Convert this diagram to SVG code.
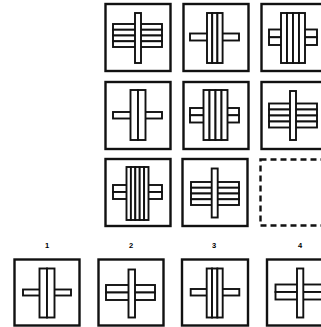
<svg xmlns="http://www.w3.org/2000/svg" width="321" height="327" viewBox="0 0 321 327">
<style>
.box{fill:none;stroke:#111;stroke-width:2.4}
.dash{fill:none;stroke:#111;stroke-width:2.4;stroke-dasharray:6 4}
.bar{fill:#fff;stroke:#111;stroke-width:1.9}
.lbl{font-family:"Liberation Sans",Arial,sans-serif;font-size:7.5px;font-weight:bold;fill:#000;text-anchor:middle}
</style>
<rect width="321" height="327" fill="#fff"/>
<g id="cell1">
<rect class="box" x="105.5" y="4" width="65" height="67"/>
<rect class="bar" x="113" y="24" width="49" height="5.75"/>
<rect class="bar" x="113" y="29.75" width="49" height="5.75"/>
<rect class="bar" x="113" y="35.5" width="49" height="5.75"/>
<rect class="bar" x="113" y="41.25" width="49" height="5.75"/>
<rect class="bar" x="135" y="13" width="6" height="50"/>
</g>
<g id="cell2">
<rect class="box" x="183.5" y="4" width="65" height="67"/>
<rect class="bar" x="190" y="33.5" width="49" height="7"/>
<rect class="bar" x="207" y="13" width="5.2" height="50"/>
<rect class="bar" x="212.2" y="13" width="5.2" height="50"/>
<rect class="bar" x="217.4" y="13" width="5.2" height="50"/>
</g>
<g id="cell3">
<rect class="box" x="261.5" y="4" width="65" height="67"/>
<rect class="bar" x="269" y="29.5" width="48" height="7.75"/>
<rect class="bar" x="269" y="37.25" width="48" height="7.75"/>
<rect class="bar" x="281" y="13" width="6" height="50"/>
<rect class="bar" x="287" y="13" width="6" height="50"/>
<rect class="bar" x="293" y="13" width="6" height="50"/>
<rect class="bar" x="299" y="13" width="6" height="50"/>
</g>
<g id="cell4">
<rect class="box" x="105.5" y="82" width="65" height="67"/>
<rect class="bar" x="113" y="112" width="49" height="6.5"/>
<rect class="bar" x="130.5" y="90" width="7.5" height="50"/>
<rect class="bar" x="138" y="90" width="7.5" height="50"/>
</g>
<g id="cell5">
<rect class="box" x="183.5" y="82" width="65" height="67"/>
<rect class="bar" x="190" y="108" width="49" height="7.25"/>
<rect class="bar" x="190" y="115.25" width="49" height="7.25"/>
<rect class="bar" x="203.5" y="90" width="6" height="50"/>
<rect class="bar" x="209.5" y="90" width="6" height="50"/>
<rect class="bar" x="215.5" y="90" width="6" height="50"/>
<rect class="bar" x="221.5" y="90" width="6" height="50"/>
</g>
<g id="cell6">
<rect class="box" x="261.5" y="82" width="65" height="67"/>
<rect class="bar" x="269" y="103.5" width="48" height="6"/>
<rect class="bar" x="269" y="109.5" width="48" height="6"/>
<rect class="bar" x="269" y="115.5" width="48" height="6"/>
<rect class="bar" x="269" y="121.5" width="48" height="6"/>
<rect class="bar" x="290" y="91" width="6" height="49"/>
</g>
<g id="cell7">
<rect class="box" x="105.5" y="159" width="65" height="67"/>
<rect class="bar" x="113" y="185" width="49" height="7"/>
<rect class="bar" x="113" y="192" width="49" height="7"/>
<rect class="bar" x="126.5" y="167" width="4.4" height="53"/>
<rect class="bar" x="130.9" y="167" width="4.4" height="53"/>
<rect class="bar" x="135.3" y="167" width="4.4" height="53"/>
<rect class="bar" x="139.7" y="167" width="4.4" height="53"/>
<rect class="bar" x="144.1" y="167" width="4.4" height="53"/>
</g>
<g id="cell8">
<rect class="box" x="182.5" y="159" width="65" height="67"/>
<rect class="bar" x="191" y="182" width="48" height="5.75"/>
<rect class="bar" x="191" y="187.75" width="48" height="5.75"/>
<rect class="bar" x="191" y="193.5" width="48" height="5.75"/>
<rect class="bar" x="191" y="199.25" width="48" height="5.75"/>
<rect class="bar" x="211.7" y="168.5" width="6" height="49"/>
</g>
<g id="cell9">
<rect class="dash" x="260.5" y="159.5" width="65" height="66"/>
</g>
<g id="answer1">
<text class="lbl" x="47" y="248">1</text>
<rect class="box" x="14.5" y="259.5" width="65" height="66"/>
<rect class="bar" x="23" y="289.5" width="48" height="6"/>
<rect class="bar" x="39.5" y="268.5" width="7.5" height="49"/>
<rect class="bar" x="47" y="268.5" width="7.5" height="49"/>
</g>
<g id="answer2">
<text class="lbl" x="131" y="248">2</text>
<rect class="box" x="98.5" y="259.5" width="65" height="66"/>
<rect class="bar" x="106" y="285" width="49" height="7.5"/>
<rect class="bar" x="106" y="292.5" width="49" height="7.5"/>
<rect class="bar" x="128.5" y="269.5" width="6.5" height="48"/>
</g>
<g id="answer3">
<text class="lbl" x="214" y="248">3</text>
<rect class="box" x="182" y="259.5" width="66" height="66"/>
<rect class="bar" x="190.7" y="289" width="48.6" height="6.5"/>
<rect class="bar" x="206.7" y="268.5" width="5.33" height="49"/>
<rect class="bar" x="212.03" y="268.5" width="5.33" height="49"/>
<rect class="bar" x="217.36" y="268.5" width="5.33" height="49"/>
</g>
<g id="answer4">
<text class="lbl" x="300" y="248">4</text>
<rect class="box" x="267" y="259.5" width="66" height="66"/>
<rect class="bar" x="275.5" y="284.5" width="49" height="7.5"/>
<rect class="bar" x="275.5" y="292" width="49" height="7.5"/>
<rect class="bar" x="297" y="268.5" width="6.3" height="49"/>
</g>
<g id="connectors"/>
</svg>
